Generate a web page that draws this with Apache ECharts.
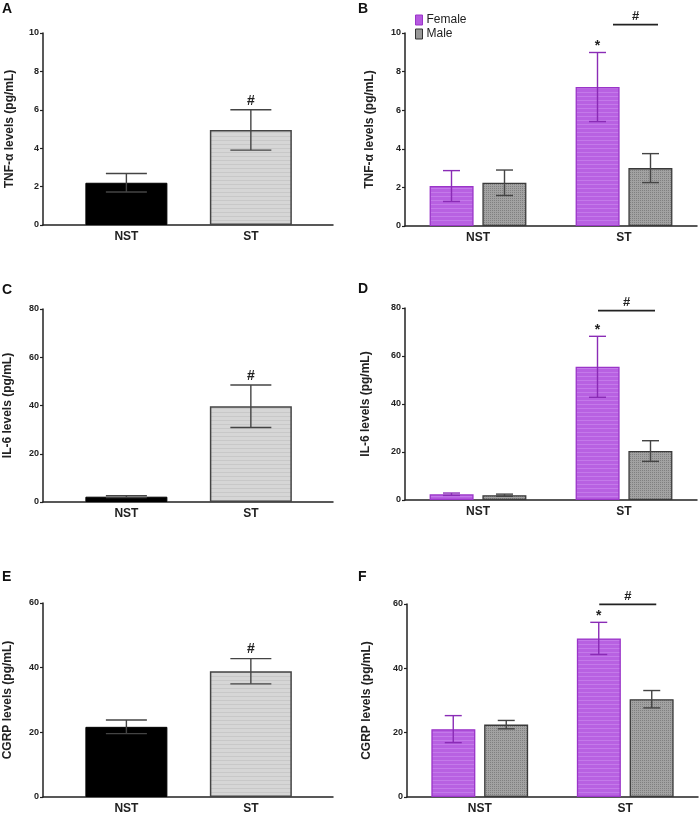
<!DOCTYPE html>
<html>
<head>
<meta charset="utf-8">
<script src="https://cdn.jsdelivr.net/npm/echarts@6/dist/echarts.min.js"></script>
<style>
html,body{margin:0;padding:0;background:#fff;}
#main{width:699px;height:813px;}
</style>
</head>
<body>
<div id="main"></div>
<script>
// ---------------- DATA ----------------
const categories = ['NST', 'ST'];
const sexes = ['Female', 'Male'];

// Panel A: TNF-α total
const tnfTotalMean = [2.2, 4.95];
const tnfTotalSem = [0.48, 1.05];
// Panel B: TNF-α by sex
const tnfFemaleMean = [2.07, 7.2];
const tnfFemaleSem = [0.8, 1.79];
const tnfMaleMean = [2.24, 3.0];
const tnfMaleSem = [0.66, 0.75];
// Panel C: IL-6 total
const il6TotalMean = [2.2, 39.7];
const il6TotalSem = [0.4, 8.8];
// Panel D: IL-6 by sex
const il6FemaleMean = [2.4, 55.5];
const il6FemaleSem = [0.5, 12.7];
const il6MaleMean = [2.0, 20.4];
const il6MaleSem = [0.45, 4.3];
// Panel E: CGRP total
const cgrpTotalMean = [21.7, 38.9];
const cgrpTotalSem = [2.1, 3.9];
// Panel F: CGRP by sex
const cgrpFemaleMean = [21.1, 49.3];
const cgrpFemaleSem = [4.2, 5.0];
const cgrpMaleMean = [22.5, 30.4];
const cgrpMaleSem = [1.3, 2.7];

// significance marks
const totalMarks = ['', '#'];      // vs NST (A, C, E)
const femaleMarks = ['', '*'];     // female ST vs female NST (B, D, F)
const sigLineTNF = 10.43;          // # bar between female and male ST
const sigLineIL6 = 78.9;
const sigLineCGRP = 59.9;

// axis settings
const tnfTicks = {max: 10, interval: 2};
const il6Ticks = {max: 80, interval: 20};
const cgrpTicks = {max: 60, interval: 20};
const yNames = ['TNF-\u03b1 levels (pg/mL)', 'IL-6 levels (pg/mL)', 'CGRP levels (pg/mL)'];
const panelLetters = ['A', 'B', 'C', 'D', 'E', 'F'];

// ---------------- STYLE ----------------
const FONT = 'Liberation Sans, Arial, sans-serif';
function makePattern(base, c2, kind) {
  const cv = document.createElement('canvas');
  cv.width = 4; cv.height = 4;
  const ctx = cv.getContext('2d');
  ctx.fillStyle = base; ctx.fillRect(0, 0, 4, 4);
  ctx.fillStyle = c2;
  if (kind === 'dots') { ctx.fillRect(0, 0, 1, 1); ctx.fillRect(2, 2, 1, 1); ctx.fillRect(2,0,1,1); ctx.fillRect(0,2,1,1); }
  else { ctx.fillRect(0, 0, 4, 1); }
  return cv;
}
const purplePat = {image: makePattern('#b861e2', '#c47aea', 'lines'), repeat: 'repeat'};
const greyPat = {image: makePattern('#a2a2a2', '#808080', 'dots'), repeat: 'repeat'};
const lightPat = {image: makePattern('#d6d6d6', '#c8c8c8', 'lines'), repeat: 'repeat'};

const PURPLE_BORDER = '#9a35c8';
const PURPLE_ERR = '#8a2cb6';
const GREY_BORDER = '#3a3a3a';

// grid positions (px)
const grids = [
  {left: 43, right: 366, top: 33, bottom: 588},
  {left: 405, right: 2, top: 33, bottom: 587},
  {left: 43, right: 366, top: 309, bottom: 311},
  {left: 405, right: 2, top: 308, bottom: 313},
  {left: 43, right: 366, top: 603, bottom: 16},
  {left: 407, right: 1, top: 604, bottom: 16}
];
const letterPos = [[2, 2], [358, 2], [2, 283], [358, 282], [2, 570], [358, 570]];
const nameGaps = [27, 29, 29, 33, 29, 34];

function errRender(offset, cap, color) {
  return function (params, api) {
    const x = api.value(0), lo = api.value(1), hi = api.value(2);
    const pT = api.coord([x, hi]);
    const pB = api.coord([x, lo]);
    const cx = pT[0] + offset;
    const st = {stroke: color, lineWidth: 1.4};
    return {type: 'group', children: [
      {type: 'line', shape: {x1: cx, y1: pT[1], x2: cx, y2: pB[1]}, style: st},
      {type: 'line', shape: {x1: cx - cap / 2, y1: pT[1], x2: cx + cap / 2, y2: pT[1]}, style: st},
      {type: 'line', shape: {x1: cx - cap / 2, y1: pB[1], x2: cx + cap / 2, y2: pB[1]}, style: st}
    ]};
  };
}
function textRender(offset, dy, label) {
  return function (params, api) {
    const p = api.coord([api.value(0), api.value(1)]);
    return {type: 'text', x: p[0] + offset, y: p[1] + dy,
      style: {text: label, font: 'bold 14px ' + FONT,
        fill: '#222', align: 'center', verticalAlign: 'middle'}};
  };
}
function lineRender(x1off, x2off, dyText) {
  return function (params, api) {
    const p = api.coord([api.value(0), api.value(1)]);
    return {type: 'group', children: [
      {type: 'line', shape: {x1: p[0] + x1off, y1: p[1], x2: p[0] + x2off, y2: p[1]},
        style: {stroke: '#222', lineWidth: 1.8}},
      {type: 'text', x: p[0] + (x1off + x2off) / 2, y: p[1] + dyText,
        style: {text: '#', font: 'bold 13px ' + FONT, fill: '#222', align: 'center', verticalAlign: 'middle'}}
    ]};
  };
}

const xAxes = [], yAxes = [], series = [];
const yTicks = [tnfTicks, tnfTicks, il6Ticks, il6Ticks, cgrpTicks, cgrpTicks];

for (let g = 0; g < 6; g++) {
  const single = g % 2 === 0;
  const axisLine = {show: true, lineStyle: {color: '#222', width: 1.5}};
  if (single) {
    xAxes.push({type: 'value', gridIndex: g, min: 0.33, max: 2.66, splitLine: {show: false},
      axisLine: axisLine, axisTick: {show: false},
      axisLabel: {customValues: [1, 2], formatter: v => categories[Math.round(v) - 1] || '',
        fontFamily: FONT, fontWeight: 'bold', fontSize: 12, color: '#222', margin: 6}});
  } else {
    xAxes.push({type: 'category', gridIndex: g, data: categories, axisLine: axisLine,
      axisTick: {show: false},
      axisLabel: {fontFamily: FONT, fontWeight: 'bold', fontSize: 12, color: '#222', margin: 6}});
  }
  yAxes.push({type: 'value', gridIndex: g, min: 0, max: yTicks[g].max, interval: yTicks[g].interval,
    splitLine: {show: false}, axisLine: axisLine,
    axisTick: {show: true, length: 3, lineStyle: {color: '#222', width: 1.2}},
    axisLabel: {fontFamily: FONT, fontWeight: 'bold', fontSize: 9, color: '#222', margin: 4},
    name: yNames[Math.floor(g / 2)], nameLocation: 'middle', nameGap: nameGaps[g], nameRotate: 90,
    nameTextStyle: {fontFamily: FONT, fontWeight: 'bold', fontSize: 12, color: '#222'}});
}

function addSingle(g, mean, sem) {
  series.push({type: 'bar', xAxisIndex: g, yAxisIndex: g, barWidth: 82, z: 2,
    data: mean.map((v, i) => ({value: [i + 1, v], itemStyle: i === 0
      ? {color: '#000', borderColor: '#000', borderWidth: 1}
      : {color: lightPat, borderColor: '#444', borderWidth: 1.5}})),
    silent: true});
  series.push({type: 'custom', xAxisIndex: g, yAxisIndex: g, z: 3, silent: true,
    renderItem: errRender(0, 41, '#444'),
    data: mean.map((v, i) => [i + 1, v - sem[i], v + sem[i]])});
  const marked = [];
  mean.forEach((v, i) => { if (totalMarks[i]) marked.push([i + 1, v + sem[i]]); });
  series.push({type: 'custom', xAxisIndex: g, yAxisIndex: g, z: 4, silent: true,
    renderItem: textRender(0, -9, '#'), data: marked});
}
function addGrouped(g, fMean, fSem, mMean, mSem, sigVal, x1off, x2off) {
  series.push({type: 'bar', name: 'Female', xAxisIndex: g, yAxisIndex: g, barWidth: 44, barGap: '20%',
    itemStyle: {color: purplePat, borderColor: PURPLE_BORDER, borderWidth: 1.3}, data: fMean, silent: true});
  series.push({type: 'bar', name: 'Male', xAxisIndex: g, yAxisIndex: g, barWidth: 44, barGap: '20%',
    itemStyle: {color: greyPat, borderColor: GREY_BORDER, borderWidth: 1.3}, data: mMean, silent: true});
  series.push({type: 'custom', xAxisIndex: g, yAxisIndex: g, z: 3, silent: true,
    renderItem: errRender(-26.5, 17, PURPLE_ERR),
    data: fMean.map((v, i) => [i, v - fSem[i], v + fSem[i]])});
  series.push({type: 'custom', xAxisIndex: g, yAxisIndex: g, z: 3, silent: true,
    renderItem: errRender(26.5, 17, '#444'),
    data: mMean.map((v, i) => [i, v - mSem[i], v + mSem[i]])});
  const starred = [];
  fMean.forEach((v, i) => { if (femaleMarks[i]) starred.push([i, v + fSem[i]]); });
  series.push({type: 'custom', xAxisIndex: g, yAxisIndex: g, z: 4, silent: true,
    renderItem: textRender(-26.5, -6, '*'), data: starred});
  series.push({type: 'custom', xAxisIndex: g, yAxisIndex: g, z: 4, silent: true, clip: false,
    renderItem: lineRender(x1off, x2off, -8), data: [[1, sigVal]]});
}

addSingle(0, tnfTotalMean, tnfTotalSem);
addGrouped(1, tnfFemaleMean, tnfFemaleSem, tnfMaleMean, tnfMaleSem, sigLineTNF, -11, 34);
addSingle(2, il6TotalMean, il6TotalSem);
addGrouped(3, il6FemaleMean, il6FemaleSem, il6MaleMean, il6MaleSem, sigLineIL6, -26, 31);
addSingle(4, cgrpTotalMean, cgrpTotalSem);
addGrouped(5, cgrpFemaleMean, cgrpFemaleSem, cgrpMaleMean, cgrpMaleSem, sigLineCGRP, -26, 31);

const chart = echarts.init(document.getElementById('main'), null, {renderer: 'canvas'});
chart.setOption({
  backgroundColor: '#fff',
  animation: false,
  title: panelLetters.map((t, i) => ({text: t, left: letterPos[i][0], top: letterPos[i][1], padding: 0,
    textStyle: {fontFamily: FONT, fontWeight: 'bold', fontSize: 14, color: '#111'}})),
  legend: {show: true, orient: 'vertical', left: 415, top: 14, padding: 0, itemGap: 2,
    itemWidth: 7, itemHeight: 10, icon: 'rect', selectedMode: false,
    textStyle: {fontFamily: FONT, fontSize: 12, color: '#222', padding: [0, 0, 0, -1]},
    data: [
      {name: sexes[0], itemStyle: {color: '#b659e0', borderColor: PURPLE_BORDER, borderWidth: 1}},
      {name: sexes[1], itemStyle: {color: '#999', borderColor: '#333', borderWidth: 1}}
    ]},
  grid: grids.map(g => Object.assign({containLabel: false, outerBoundsMode: 'none'}, g)),
  xAxis: xAxes,
  yAxis: yAxes,
  series: series
});
</script>
</body>
</html>
